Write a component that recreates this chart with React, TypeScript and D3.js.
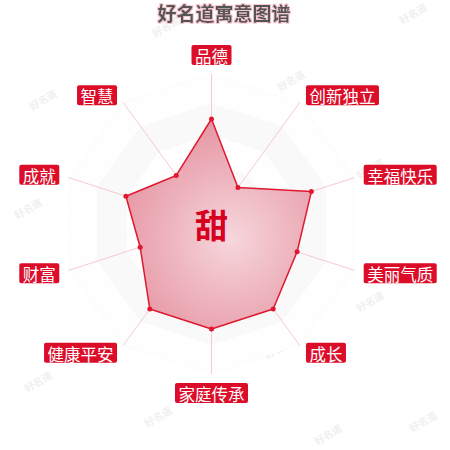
import * as d3 from "d3";

// radar axes, clockwise from the top
const axes = ["品德", "创新独立", "幸福快乐", "美丽气质", "成长", "家庭传承", "健康平安", "财富", "成就", "智慧"];
const scores = [70, 30, 70, 60, 70, 70, 70, 50, 60, 40];
const levels = [20, 40, 60, 80, 100];
const title = "好名道寓意图谱";
const centerChar = "甜";
const watermark = "好名道";
const watermarkSpots: [number, number][] = [
  [168, 30], [415, 17], [45, 103], [293, 84], [190, 160], [372, 172],
  [30, 212], [372, 305], [280, 352], [160, 420], [330, 438], [425, 425], [40, 385],
];

const W = 450;
const H = 450;
const cx = 211.5;
const cy = 224;
const R = 150;
const RED = "#dc0d29";
const FONT = "'Noto Sans CJK SC', 'Noto Sans', sans-serif";

export default function App() {
  const n = axes.length;
  const r = d3.scaleLinear().domain([0, 100]).range([0, R]);
  const angle = d3.scaleLinear().domain([0, n]).range([0, 2 * Math.PI]);
  const pt = (i: number, rad: number): [number, number] => [
    cx + rad * Math.sin(angle(i)),
    cy - rad * Math.cos(angle(i)),
  ];
  const ring = (v: number) => d3.range(n).map((i) => pt(i, r(v)));
  const poly = d3.line<[number, number]>().curve(d3.curveLinearClosed);
  const dataPts = scores.map((s, i) => pt(i, r(s)));

  return (
    <div style={{ position: "fixed", left: 0, top: 0, width: W, height: H, background: "#fff" }}>
      <svg width={W} height={H} style={{ display: "block", fontFamily: FONT }}>
        <defs>
          <radialGradient id="areaFill" gradientUnits="userSpaceOnUse" cx={cx + 20} cy={cy + 15} r={R * 0.8}>
            <stop offset="0%" stopColor="#f6d6db" />
            <stop offset="100%" stopColor="#e696a4" />
          </radialGradient>
          <filter id="titleGlow" x="-10%" y="-40%" width="120%" height="180%">
            <feMorphology in="SourceAlpha" operator="dilate" radius="1" result="thick" />
            <feFlood floodColor="#f6c9d0" />
            <feComposite in2="thick" operator="in" result="halo" />
            <feMerge>
              <feMergeNode in="halo" />
              <feMergeNode in="SourceGraphic" />
            </feMerge>
          </filter>
        </defs>

        {watermarkSpots.map(([x, y], i) => (
          <text key={i} x={x} y={y} transform={`rotate(-30 ${x} ${y})`} textAnchor="middle"
            fontSize={10} fontWeight="bold" fill="#f0f0f0">{watermark}</text>
        ))}

        {/* split areas */}
        {[...levels].reverse().map((v, k) => (
          <path key={v} d={poly(ring(v)) ?? ""} fill={k % 2 === 0 ? "#fefefe" : "#f9f9f9"}
            stroke="#ececec" strokeWidth={0.7} strokeDasharray="1,2" />
        ))}

        {/* axis lines */}
        {axes.map((_, i) => {
          const [x2, y2] = pt(i, R);
          return <line key={i} x1={cx} y1={cy} x2={x2} y2={y2} stroke="#f4bcc5" strokeWidth={0.8} />;
        })}

        <path d={poly(dataPts) ?? ""} fill="url(#areaFill)" stroke="#e0182f" strokeWidth={1.5} strokeLinejoin="round" />
        {dataPts.map(([x, y], i) => (
          <circle key={i} cx={x} cy={y} r={2.5} fill="#e0182f" />
        ))}

        <text x={cx} y={cy} textAnchor="middle" dominantBaseline="central" fontSize={33} fontWeight="bold" fill="#d8001f">
          {centerChar}
        </text>

        {/* axis names */}
        {axes.map((name, i) => {
          const [px, py] = pt(i, R + 9);
          const s = Math.sin(angle(i));
          const c = Math.cos(angle(i));
          const bw = name.length * 16.5 + 7;
          const bh = 20;
          let bx = px - bw / 2;
          if (s > 0.01) bx = px + 1;
          else if (s < -0.01) bx = px - bw - 1;
          let by = py - bh / 2;
          if (Math.abs(s) < 0.01) by = c > 0 ? py - bh : py;
          return (
            <g key={name}>
              <rect x={bx} y={by} width={bw} height={bh} rx={2} fill={RED} />
              <text x={bx + bw / 2} y={by + bh / 2 + 1} textAnchor="middle" dominantBaseline="central"
                fontSize={16.5} fill="#fff">{name}</text>
            </g>
          );
        })}

        <text x={224} y={12} textAnchor="middle" dominantBaseline="central" fontSize={19} fontWeight="bold"
          fill="#555" filter="url(#titleGlow)">{title}</text>
      </svg>
    </div>
  );
}
